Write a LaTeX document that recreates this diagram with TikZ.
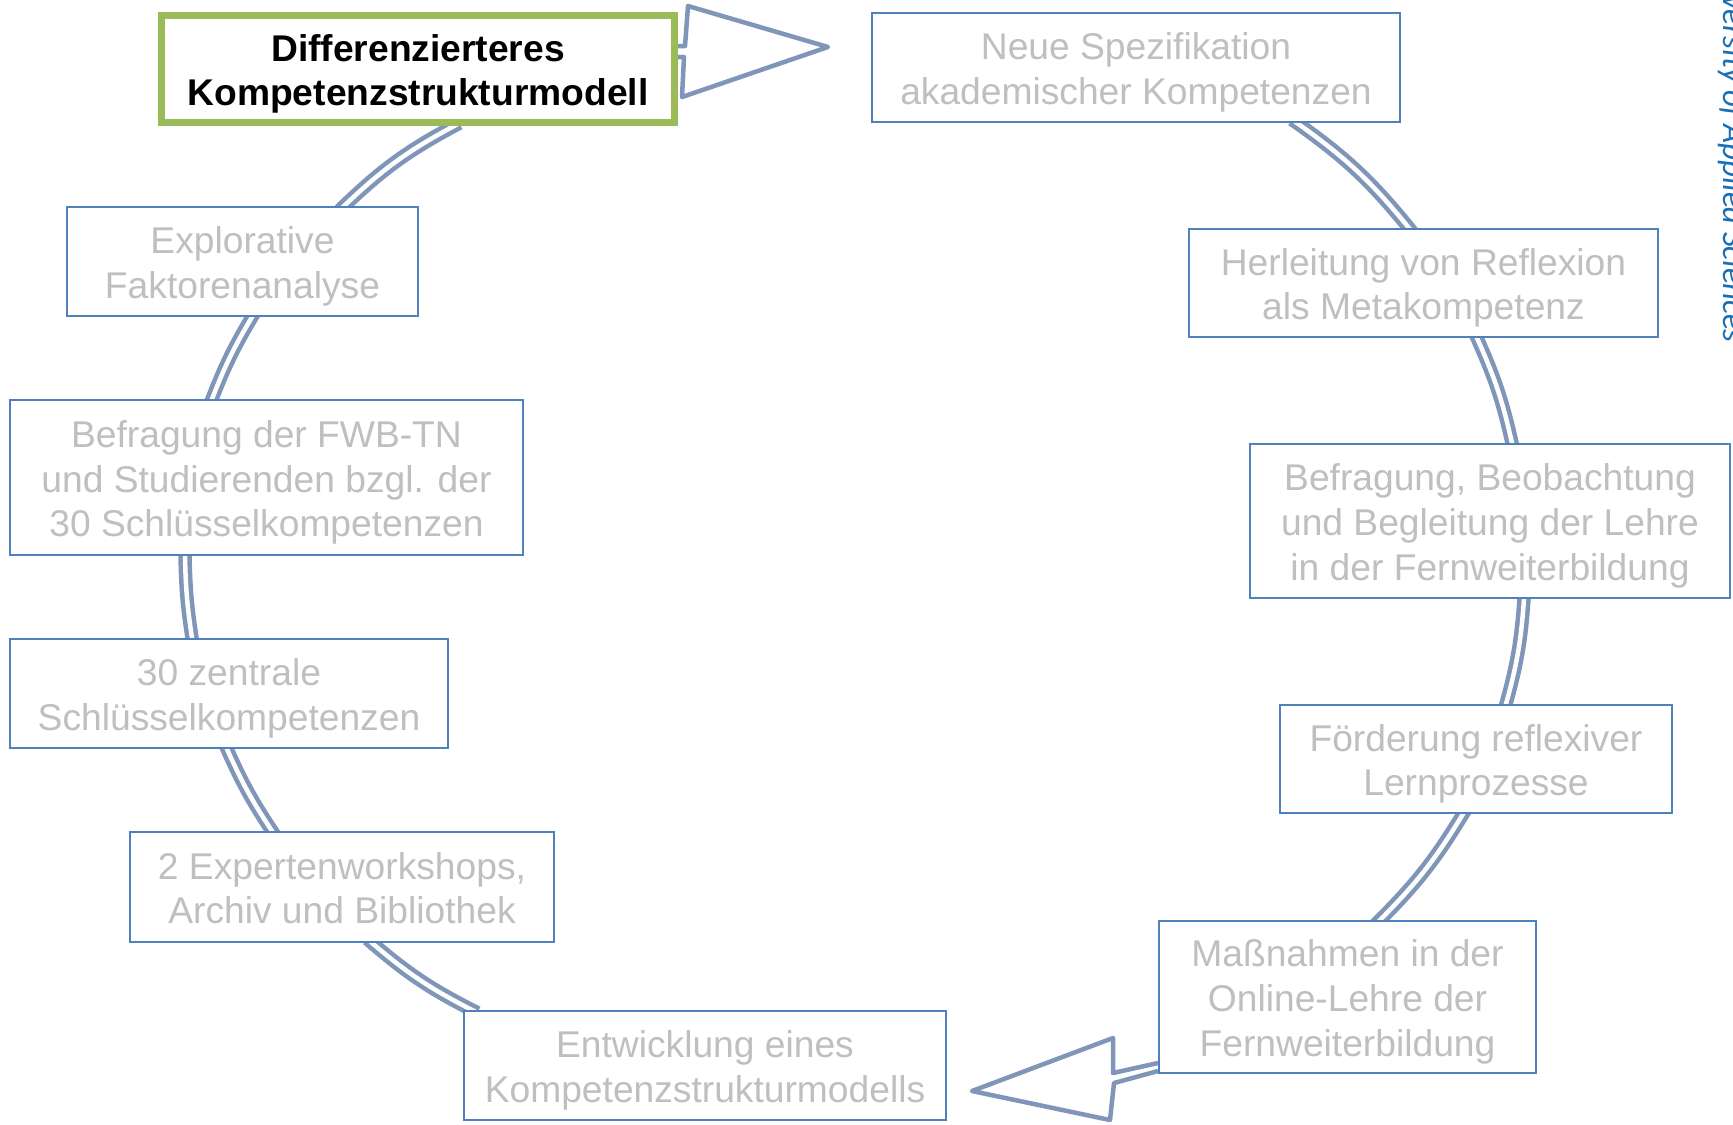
\documentclass[tikz,border=0pt]{standalone}
\usepackage{fontspec}
\setmainfont{Liberation Sans}
\newfontfamily\carl{Carlito}
\usetikzlibrary{calc}
\pgfdeclarelayer{background}
\pgfsetlayers{background,main}
\definecolor{boxblue}{RGB}{79,129,189}
\definecolor{ringc}{RGB}{127,150,185}
\definecolor{txtgray}{RGB}{191,191,191}
\definecolor{hlgreen}{RGB}{155,187,89}
\definecolor{logoblue}{RGB}{25,110,180}
\newcommand{\topstrut}{\rule{0pt}{18.5pt}}
\newcommand{\botstrut}{\rule[-3.95pt]{0pt}{3.95pt}}
\begin{document}
\begin{tikzpicture}[x=0.5pt,y=0.5pt,
  stage/.style={draw=boxblue, line width=1pt, fill=white, text=txtgray, align=center, inner sep=0pt,
    font=\fontsize{18.6}{22.4}\selectfont},
  focus/.style={draw=hlgreen, line width=3.5pt, fill=white, text=black, align=center, inner sep=0pt,
    font=\fontsize{18.6}{22.4}\selectfont\bfseries},
  ring/.style={draw=ringc, line width=2.25pt, double=white, double distance=2.25pt,
    shorten <=-3pt, shorten >=-3pt},
  arrowblock/.style={draw=ringc, line width=2.25pt, fill=white, line join=round}]
\useasboundingbox (0,0) rectangle (1733,-1124);

% boxes
\node[focus, minimum width=256.5pt, minimum height=53.5pt] (diff) at (418,-69) {\topstrut Differenzierteres\\Kompetenzstrukturmodell\botstrut};
\node[stage, minimum width=264pt, minimum height=54.5pt] (neue) at (1136,-67.5) {\topstrut Neue Spezifikation\\akademischer Kompetenzen\botstrut};
\node[stage, minimum width=234.5pt, minimum height=54pt] (herl) at (1423.5,-283) {\topstrut Herleitung von Reflexion\\als Metakompetenz\botstrut};
\node[stage, minimum width=240pt, minimum height=77pt] (befr2) at (1490,-521) {\topstrut Befragung, Beobachtung\\und Begleitung der Lehre\\in der Fernweiterbildung\botstrut};
\node[stage, minimum width=196pt, minimum height=54pt] (foerd) at (1476,-759) {\topstrut Förderung reflexiver\\Lernprozesse\botstrut};
\node[stage, minimum width=188.5pt, minimum height=76pt] (mass) at (1347.5,-997) {\topstrut Maßnahmen in der\\Online-Lehre der\\Fernweiterbildung\botstrut};
\node[stage, minimum width=241pt, minimum height=54.5pt] (entw) at (705,-1065.5) {\topstrut Entwicklung eines\\Kompetenzstrukturmodells\botstrut};
\node[stage, minimum width=212pt, minimum height=55pt] (exp) at (342,-887) {\topstrut 2 Expertenworkshops,\\Archiv und Bibliothek\botstrut};
\node[stage, minimum width=219pt, minimum height=54.5pt] (zent) at (229,-693.5) {\topstrut 30 zentrale\\Schlüsselkompetenzen\botstrut};
\node[stage, minimum width=256.5pt, minimum height=77.5pt] (befr1) at (266.5,-477.5) {\topstrut Befragung der FWB-TN\\und Studierenden bzgl. der\\30 Schlüsselkompetenzen\botstrut};
\node[stage, minimum width=175.5pt, minimum height=54.5pt] (explor) at (242.5,-261.5) {\topstrut Explorative\\Faktorenanalyse\botstrut};

\node[rotate=-90, anchor=base east, text=logoblue, inner sep=0pt,
  font=\carl\itshape\fontsize{16.4}{19}\selectfont] (logo) at (1723,-343) {University of Applied Sciences};

\begin{pgfonlayer}{background}
\fill[white] (0,0) rectangle (1733,-1124);
% ring segments
\draw[ring] ($(neue.south west)+(426,0)$) to[bend left=8] ($(herl.north west)+(221,0)$);
\draw[ring] ($(herl.south west)+(289,0)$) to[bend left=6] ($(befr2.north west)+(263,0)$);
\draw[ring] ($(befr2.south west)+(275,0)$) to[bend left=6] ($(foerd.north west)+(227,0)$);
\draw[ring] ($(foerd.south west)+(184,0)$) to[bend left=7] ($(mass.north west)+(222,0)$);
\draw[ring] ($(entw.north west)+(9,0)$) to[bend left=7] ($(exp.south west)+(243,0)$);
\draw[ring] ($(exp.north west)+(143,0)$) to[bend left=5] ($(zent.south west)+(218,0)$);
\draw[ring] ($(zent.north west)+(183,0)$) to[bend left=4] ($(befr1.south west)+(176,0)$);
\draw[ring] ($(befr1.north west)+(203,0)$) to[bend left=5] ($(explor.south west)+(186,0)$);
\draw[ring] ($(explor.north west)+(278,0)$) to[bend left=8] ($(diff.south west)+(296,0)$);
% block arrows
\coordinate (ta1) at ($(diff.east)+(0,23)$);
\coordinate (ta2) at ($(diff.east)+(0,12)$);
\filldraw[arrowblock] (ta1) -- (685,-46) -- (688,-6) -- (828,-47) -- (682,-97) -- (684,-57) -- (ta2);
\coordinate (ba1) at ($(mass.south west)+(0,11)$);
\coordinate (ba2) at ($(mass.south west)+(0,3)$);
\filldraw[arrowblock] (ba1) -- (1113,-1073) -- (1113,-1038) -- (972,-1091) -- (1110,-1120) -- (1114,-1083) -- (ba2);
\end{pgfonlayer}
\end{tikzpicture}
\end{document}
